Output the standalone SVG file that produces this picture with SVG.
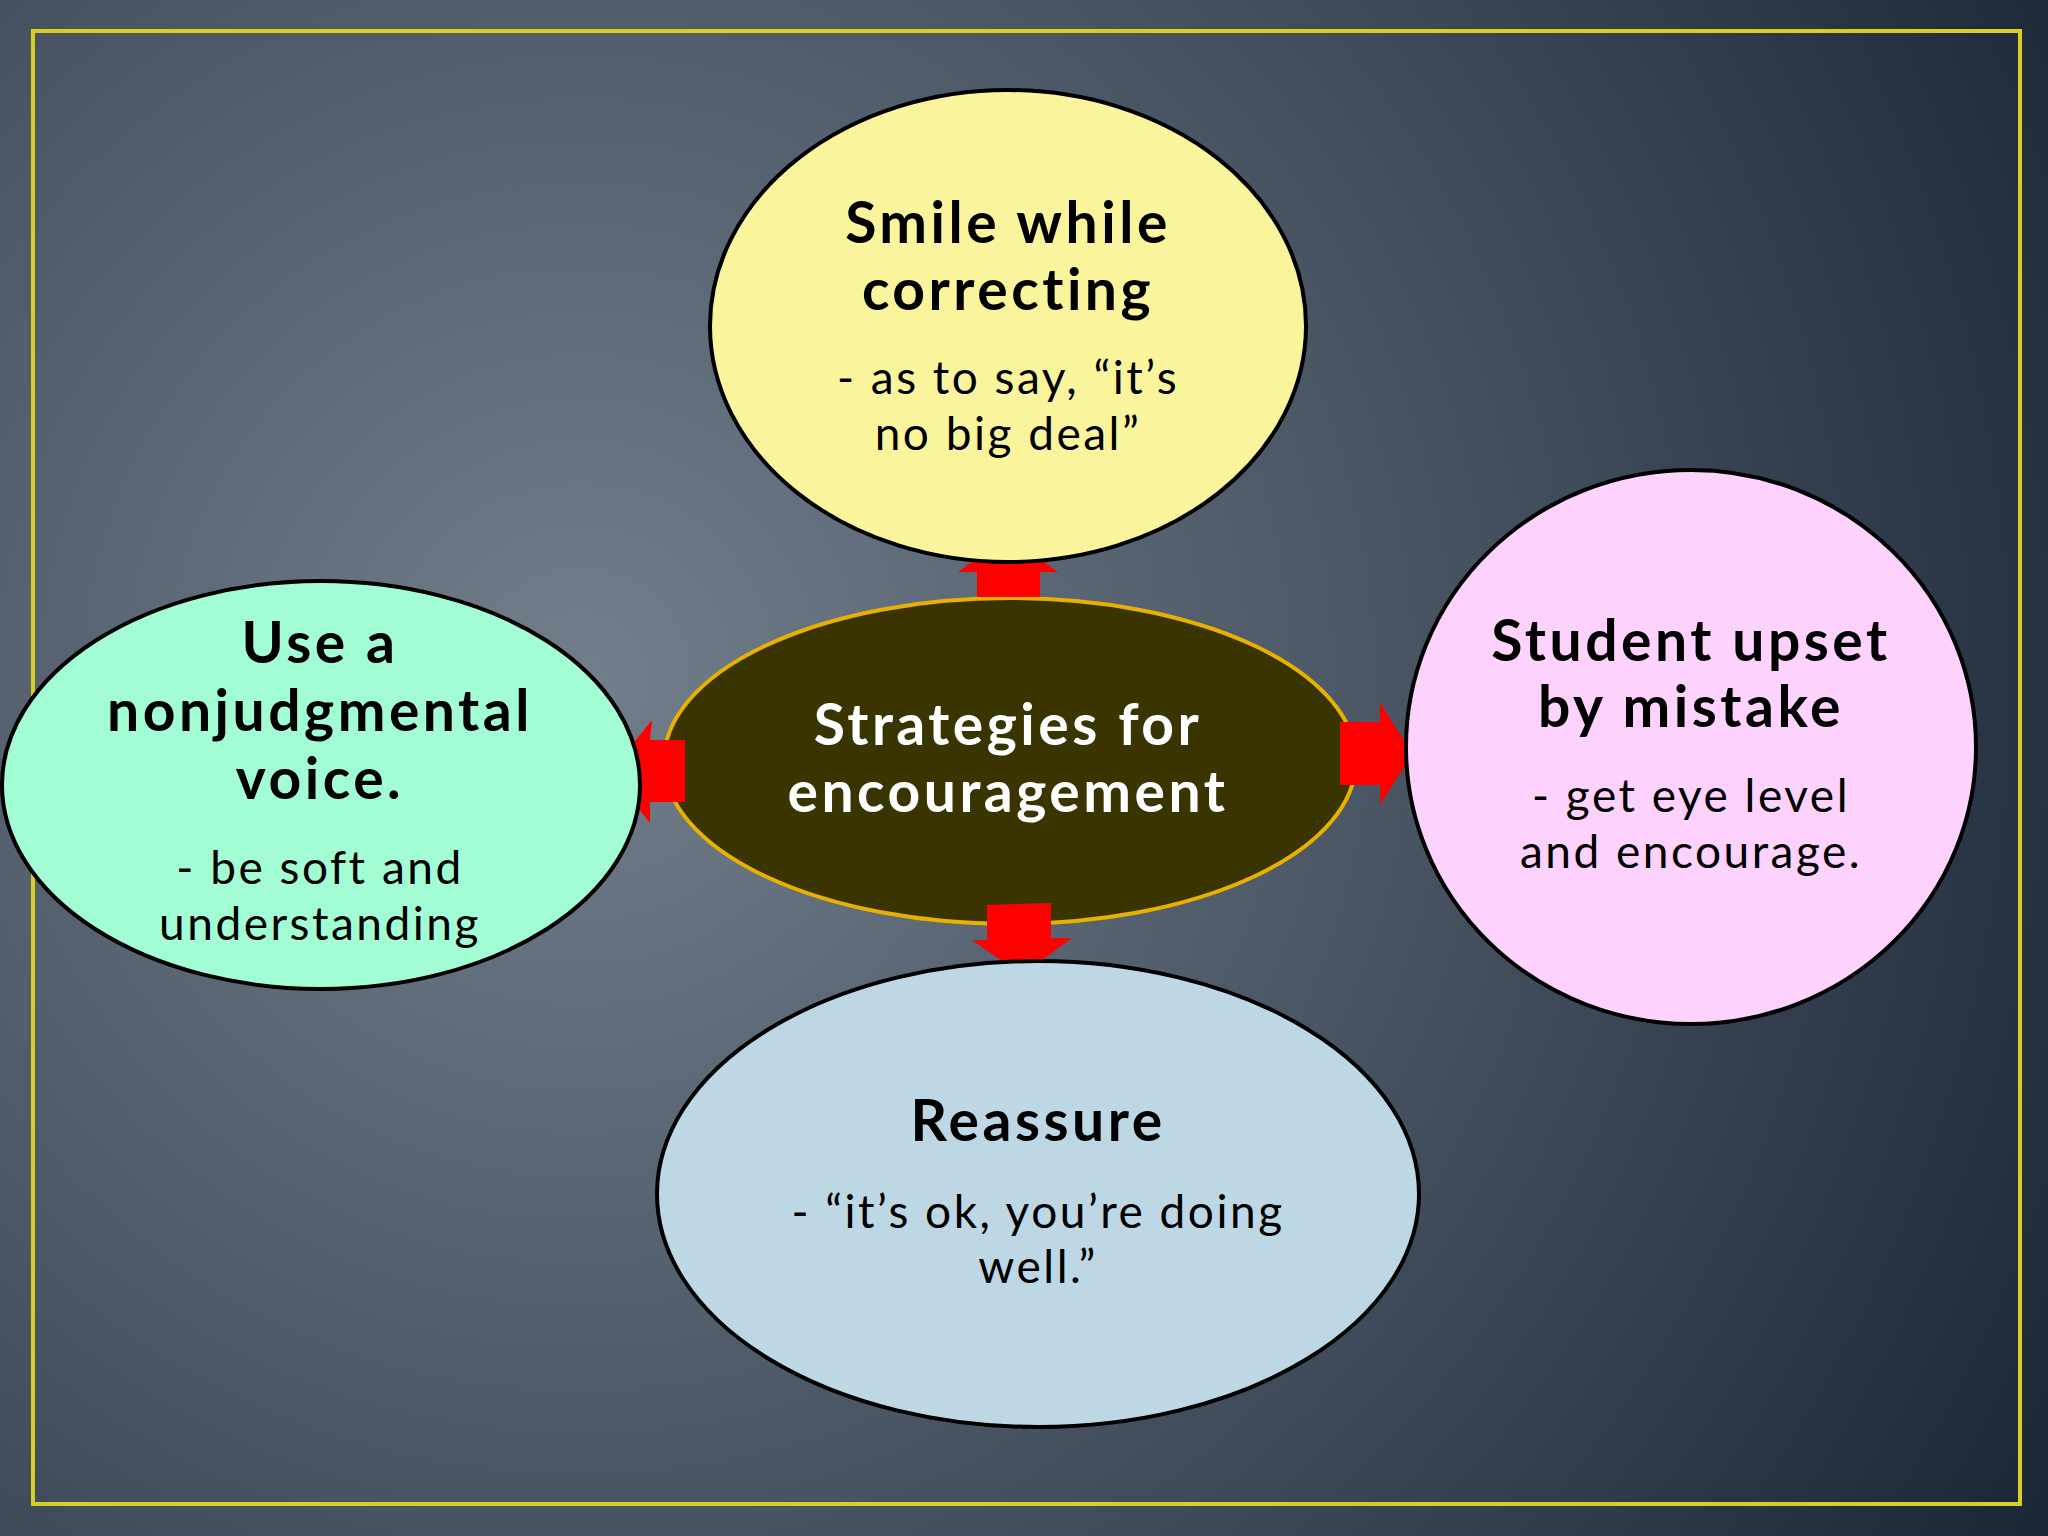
<svg xmlns="http://www.w3.org/2000/svg" width="2048" height="1536" viewBox="0 0 2048 1536">
<defs>
<radialGradient id="bg" cx="580" cy="680" r="1700" gradientUnits="userSpaceOnUse">
<stop offset="0" stop-color="#727e8a"/>
<stop offset="0.45" stop-color="#4c5866"/>
<stop offset="1" stop-color="#1a2636"/>
</radialGradient>
<style>
.node{stroke:#000;stroke-width:4}
.h{font-family:Lato,"Open Sans",sans-serif;font-weight:bold;font-size:57px;text-anchor:middle;fill:#000;letter-spacing:3.5px}
.s{font-family:Lato,"Open Sans",sans-serif;font-size:46px;text-anchor:middle;fill:#000;letter-spacing:2.5px}
.w{fill:#fff}
.arrow{fill:#ff0000}
</style>
</defs>
<rect x="0" y="0" width="2048" height="1536" fill="url(#bg)"/>
<rect x="33" y="31" width="1987" height="1473" fill="none" stroke="#d8d020" stroke-width="4"/>
<g id="center">
<ellipse cx="1010" cy="761" rx="346" ry="163" fill="#3a3500" stroke="#e8b000" stroke-width="4"/>
</g>
<g id="connectors">
<polygon class="arrow" points="977,597 977,572 958,572 1008,535 1058,572 1040,572 1040,597"/>
<polygon class="arrow" points="685,740 650,740 652,720 610,772 650,823 650,802 685,802"/>
<polygon class="arrow" points="1340,722 1380,722 1380,702 1412,754 1380,805 1380,785 1340,785"/>
<polygon class="arrow" points="987,905 1051,903 1051,938 1072,938 1022,975 972,940 987,940"/>
</g>
<g id="center-label">
<text class="h w" x="1008" y="745">Strategies for</text>
<text class="h w" x="1008" y="812">encouragement</text>
</g>
<g id="top">
<ellipse class="node" cx="1008" cy="326" rx="298" ry="236" fill="#faf59c"/>
<text class="h" x="1008" y="243">Smile while</text>
<text class="h" x="1008" y="310">correcting</text>
<text class="s" x="1008" y="394">- as to say, “it’s</text>
<text class="s" x="1008" y="450">no big deal”</text>
</g>
<g id="left">
<ellipse class="node" cx="321" cy="785" rx="319" ry="204" fill="#a2fcd4"/>
<text class="h" x="320" y="663">Use a</text>
<text class="h" x="320" y="731">nonjudgmental</text>
<text class="h" x="320" y="799">voice.</text>
<text class="s" x="320" y="884">- be soft and</text>
<text class="s" x="320" y="940">understanding</text>
</g>
<g id="right">
<ellipse class="node" cx="1691" cy="747" rx="285" ry="277" fill="#fdd2fd"/>
<text class="h" x="1691" y="661">Student upset</text>
<text class="h" x="1691" y="727">by mistake</text>
<text class="s" x="1691" y="812">- get eye level</text>
<text class="s" x="1691" y="868">and encourage.</text>
</g>
<g id="bottom">
<ellipse class="node" cx="1038" cy="1194" rx="381" ry="233" fill="#bdd7e4"/>
<text class="h" x="1038" y="1141">Reassure</text>
<text class="s" x="1038" y="1228">- “it’s ok, you’re doing</text>
<text class="s" x="1038" y="1283">well.”</text>
</g>
</svg>
